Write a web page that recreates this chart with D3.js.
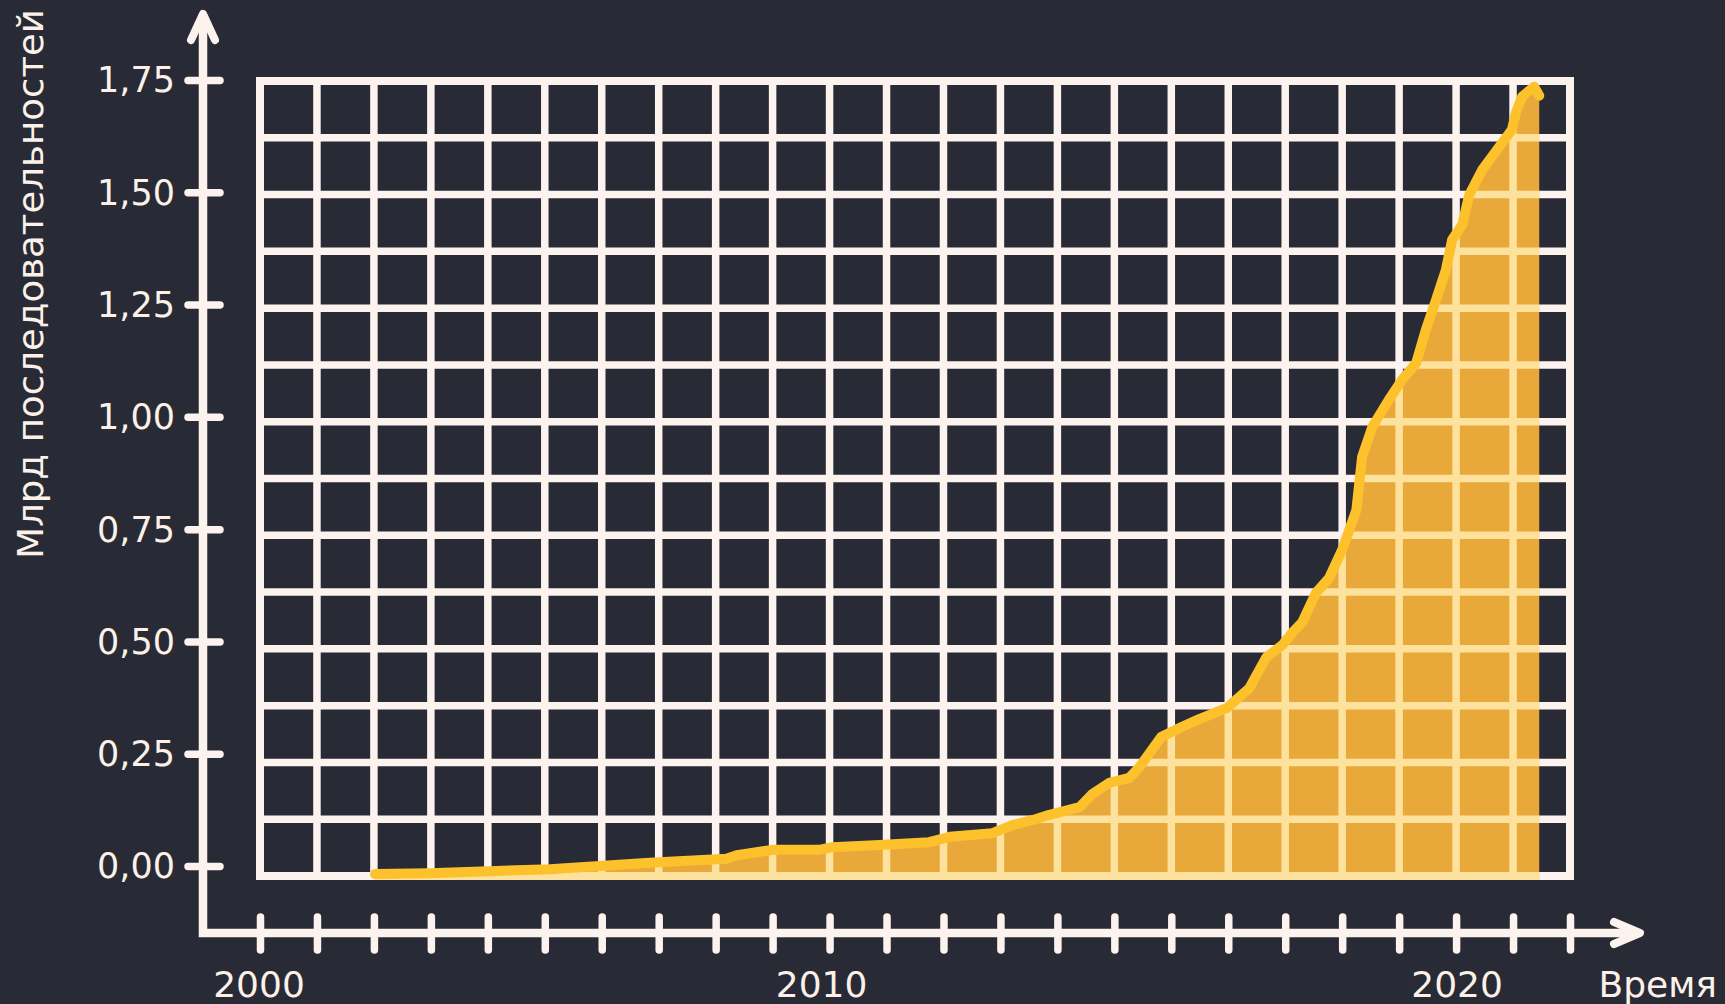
<!DOCTYPE html>
<html>
<head>
<meta charset="utf-8">
<script src="https://cdn.jsdelivr.net/npm/d3@7"></script>
<style>
  html, body { margin: 0; padding: 0; background: #282a36; }
  svg { display: block; }
  text { font-family: "DejaVu Sans", sans-serif; fill: #fcf1e8; }
</style>
</head>
<body>
<svg width="1725" height="1004"></svg>
<script>
// years (fractional) and billions of sequences
var years = [2002.02, 2002.98, 2005.09, 2006.84, 2008.19, 2008.37, 2009.0, 2009.82, 2010.05, 2010.88,
    2011.75, 2012.11, 2012.86, 2013.21, 2013.56, 2013.86, 2014.39, 2014.61, 2014.91, 2015.26,
    2015.44, 2015.82, 2016.19, 2016.49, 2016.98, 2017.14, 2017.37, 2017.67, 2017.95, 2018.12,
    2018.3, 2018.54, 2018.77, 2019.0, 2019.25, 2019.35, 2019.53, 2019.82, 2020.05, 2020.3,
    2020.47, 2020.65, 2020.82, 2020.93, 2021.11, 2021.23, 2021.46, 2021.72, 2021.98, 2022.05,
    2022.16, 2022.37, 2022.46];
var values = [-0.018, -0.016, -0.007, 0.007, 0.016, 0.024, 0.036, 0.036, 0.042, 0.047,
    0.053, 0.065, 0.073, 0.091, 0.102, 0.114, 0.131, 0.16, 0.185, 0.196,
    0.22, 0.287, 0.31, 0.327, 0.352, 0.37, 0.396, 0.465, 0.492, 0.519,
    0.543, 0.608, 0.641, 0.704, 0.793, 0.911, 0.978, 1.038, 1.082, 1.12,
    1.194, 1.261, 1.327, 1.394, 1.428, 1.494, 1.55, 1.595, 1.639, 1.677,
    1.713, 1.735, 1.715];

var yTicks = [0, 0.25, 0.5, 0.75, 1, 1.25, 1.5, 1.75];
var xTicks = d3.range(2000, 2024);
var yearLabels = [2000, 2010, 2020];
var yTitle = "Млрд последовательностей";
var xTitle = "Время";

var svg = d3.select("svg");

var x = d3.scaleLinear().domain([2000, 2023]).range([260, 1570]);
var y = d3.scaleLinear().domain([0, 1.75]).range([866, 80]);

var ru = d3.formatLocale({decimal: ",", thousands: " ", grouping: [3], currency: ["", ""]});
var fmt = ru.format(".2f");

// grid box (14 rows, one column per year)
var gridTop = 81, gridBottom = 876, gridStroke = 8;
var rows = d3.scaleLinear().domain([0, 14]).range([gridTop, gridBottom]);

var points = years.map(function (d, i) { return {year: d, value: values[i]}; });

function drawGrid(g, color) {
    g.selectAll("line.h")
        .data(d3.range(1, 14))
        .enter().append("line")
        .attr("class", "h")
        .attr("x1", x(2000)).attr("x2", x(2023))
        .attr("y1", function (d) { return rows(d); })
        .attr("y2", function (d) { return rows(d); })
        .attr("stroke", color).attr("stroke-width", 7.5);
    g.selectAll("line.v")
        .data(d3.range(2001, 2023))
        .enter().append("line")
        .attr("class", "v")
        .attr("x1", function (d) { return x(d); })
        .attr("x2", function (d) { return x(d); })
        .attr("y1", gridTop).attr("y2", gridBottom)
        .attr("stroke", color).attr("stroke-width", 7.5);
    g.append("rect")
        .attr("x", x(2000)).attr("y", gridTop)
        .attr("width", x(2023) - x(2000)).attr("height", gridBottom - gridTop)
        .attr("fill", "none")
        .attr("stroke", color).attr("stroke-width", gridStroke);
}

drawGrid(svg.append("g").attr("class", "grid"), "#fdf3ee");

var area = d3.area()
    .x(function (d) { return x(d.year); })
    .y0(gridBottom + gridStroke / 2)
    .y1(function (d) { return y(d.value); });

svg.append("path")
    .datum(points)
    .attr("d", area)
    .attr("fill", "#e9a83a");

svg.append("clipPath")
    .attr("id", "under")
    .append("path")
    .datum(points)
    .attr("d", area);

drawGrid(svg.append("g").attr("clip-path", "url(#under)"), "#fde29e");

var line = d3.line()
    .x(function (d) { return x(d.year); })
    .y(function (d) { return y(d.value); });

svg.append("path")
    .datum(points)
    .attr("d", line)
    .attr("fill", "none")
    .attr("stroke", "#fdc12c")
    .attr("stroke-width", 10)
    .attr("stroke-linejoin", "round")
    .attr("stroke-linecap", "round");

// axes
var axisColor = "#fdf3ee";
var yAxisX = 203, xAxisY = 933;

svg.append("path")
    .attr("d", "M" + yAxisX + ",16V" + xAxisY + "H1638")
    .attr("fill", "none")
    .attr("stroke", axisColor)
    .attr("stroke-width", 8.5)
    .attr("stroke-linejoin", "miter");

svg.append("path")
    .attr("d", "M" + (yAxisX - 12) + ",40L" + yAxisX + ",14L" + (yAxisX + 12) + ",40")
    .attr("fill", "none").attr("stroke", axisColor).attr("stroke-width", 8)
    .attr("stroke-linecap", "round").attr("stroke-linejoin", "round");

svg.append("path")
    .attr("d", "M1614," + (xAxisY - 11) + "L1640," + xAxisY + "L1614," + (xAxisY + 11))
    .attr("fill", "none").attr("stroke", axisColor).attr("stroke-width", 8)
    .attr("stroke-linecap", "round").attr("stroke-linejoin", "round");

var yAxis = svg.append("g")
    .attr("transform", "translate(" + yAxisX + ",0)")
    .call(d3.axisLeft(y).tickValues(yTicks).tickFormat(fmt));
yAxis.select(".domain").remove();
yAxis.selectAll(".tick line")
    .attr("x1", -15).attr("x2", 17)
    .attr("stroke", axisColor).attr("stroke-width", 7.5)
    .attr("stroke-linecap", "round");
yAxis.selectAll(".tick text")
    .attr("x", 97 - yAxisX)
    .attr("dy", "0.34em")
    .attr("text-anchor", "start")
    .attr("font-size", 35)
    .attr("font-family", null)
    .attr("fill", null);
yAxis.attr("font-family", null);

var xAxis = svg.append("g")
    .attr("transform", "translate(0," + xAxisY + ")")
    .call(d3.axisBottom(x).tickValues(xTicks).tickFormat(""));
xAxis.select(".domain").remove();
xAxis.selectAll(".tick line")
    .attr("y1", -16).attr("y2", 17)
    .attr("stroke", axisColor).attr("stroke-width", 7.5)
    .attr("stroke-linecap", "round");
xAxis.selectAll(".tick text").remove();

// year labels sit a little off their ticks in the original
var nudge = {2000: -1, 2010: -8, 2020: 58};
svg.selectAll("text.year")
    .data(yearLabels)
    .enter().append("text")
    .attr("class", "year")
    .attr("x", function (d) { return x(d) + nudge[d]; })
    .attr("y", 997)
    .attr("text-anchor", "middle")
    .attr("font-size", 36)
    .text(function (d) { return d; });

svg.append("text")
    .attr("x", 1717)
    .attr("y", 997)
    .attr("text-anchor", "end")
    .attr("font-size", 36)
    .text(xTitle);

svg.append("text")
    .attr("transform", "translate(43,559) rotate(-90)")
    .attr("font-size", 36)
    .attr("textLength", 550)
    .attr("lengthAdjust", "spacingAndGlyphs")
    .text(yTitle);
</script>
</body>
</html>
